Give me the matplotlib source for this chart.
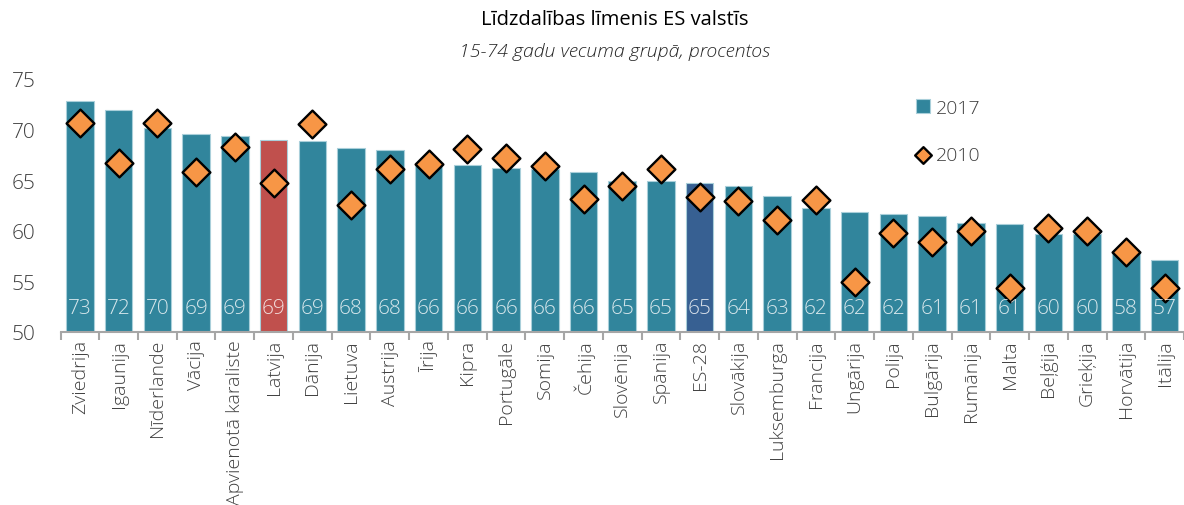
import matplotlib.pyplot as plt
import numpy as np

plt.rcParams['font.family'] = ['Open Sans', 'DejaVu Sans']
plt.rcParams['font.weight'] = 'light'

countries = ["Zviedrija", "Igaunija", "Nīderlande", "Vācija", "Apvienotā karaliste",
             "Latvija", "Dānija", "Lietuva", "Austrija", "Īrija", "Kipra", "Portugāle",
             "Somija", "Čehija", "Slovēnija", "Spānija", "ES-28", "Slovākija",
             "Luksemburga", "Francija", "Ungārija", "Polija", "Bulgārija", "Rumānija",
             "Malta", "Beļģija", "Grieķija", "Horvātija", "Itālija"]
val_2017 = [72.8, 71.9, 70.2, 69.6, 69.4, 69.0, 68.9, 68.2, 68.0, 66.5, 66.5, 66.2,
            66.1, 65.8, 64.9, 64.9, 64.7, 64.4, 63.4, 62.2, 61.9, 61.7, 61.5, 60.8,
            60.7, 59.7, 59.7, 57.8, 57.1]
val_2010 = [70.6, 66.7, 70.6, 65.8, 68.3, 64.7, 70.5, 62.5, 66.1, 66.6, 68.1, 67.2,
            66.4, 63.1, 64.4, 66.1, 63.3, 62.9, 61.1, 63.0, 54.9, 59.8, 58.9, 60.0,
            54.3, 60.3, 60.0, 57.9, 54.3]
bar_labels = ["73", "72", "70", "69", "69", "69", "69", "68", "68", "66", "66", "66",
              "66", "66", "65", "65", "65", "64", "63", "62", "62", "62", "61", "61",
              "61", "60", "60", "58", "57"]

teal = "#31859C"
colors = [teal] * len(countries)
colors[countries.index("Latvija")] = "#C0504D"
colors[countries.index("ES-28")] = "#376092"

fig = plt.figure(figsize=(11.84, 5.06), dpi=100)
ax = fig.add_axes([0.0511, 0.342, 0.9489, 0.500])

x = np.arange(len(countries))
bars = ax.bar(x, np.array(val_2017) - 50, bottom=50, width=0.71, color=colors,
              edgecolor="#A9CFDA", linewidth=0.8, label="2017", zorder=2)
pts = ax.scatter(x, val_2010, marker="D", s=200, color="#F79646", edgecolors="black",
                 linewidths=1.7, label="2010", zorder=3)

for xi, lab in zip(x, bar_labels):
    ax.text(xi, 52.4, lab, ha="center", va="center", fontsize=15,
            color="white", alpha=0.8, zorder=4)

ax.set_xlim(-0.5, len(countries) - 0.5)
ax.set_ylim(50, 75)
ax.set_yticks([50, 55, 60, 65, 70, 75])
ax.tick_params(axis="y", length=0, labelsize=15, labelcolor="#404040", pad=18)

ax.set_xticks(x)
ax.set_xticklabels(countries, rotation=90, fontsize=14, color="#404040")
ax.tick_params(axis="x", which="major", length=0, pad=5)
ax.set_xticks(np.arange(-0.5, len(countries), 1), minor=True)
ax.tick_params(axis="x", which="minor", length=6, color="#A6A6A6", width=1.5)

for side in ["top", "right", "left"]:
    ax.spines[side].set_visible(False)
ax.spines["bottom"].set_color("#A6A6A6")
ax.spines["bottom"].set_linewidth(1.5)

leg = ax.legend(handles=[bars, pts], loc="upper left", bbox_to_anchor=(0.746, 0.99),
                frameon=False, fontsize=14, labelspacing=1.5, handlelength=0.7,
                handletextpad=0.3, markerscale=0.6)
for t in leg.get_texts():
    t.set_color("#404040")

fig.text(0.519, 0.960, "Līdzdalības līmenis ES valstīs", ha="center", va="center",
         fontsize=14.5, color="black", fontweight="normal")
fig.text(0.519, 0.897, "15-74 gadu vecuma grupā, procentos", ha="center", va="center",
         fontsize=14, style="italic", color="#262626")

fig.savefig("out.png", dpi=100)
